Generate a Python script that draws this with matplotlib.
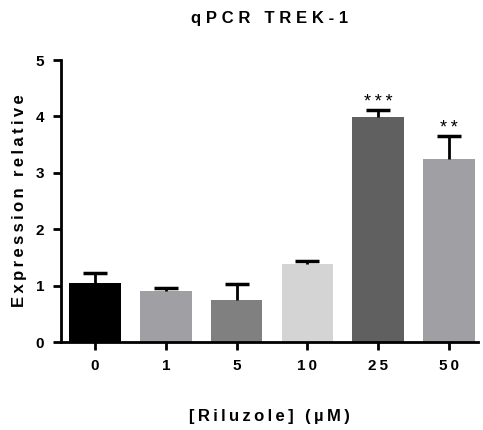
import numpy as np
import matplotlib
matplotlib.use('Agg')
import matplotlib.pyplot as plt

plt.rcParams['font.family'] = ['Liberation Sans', 'DejaVu Sans']
plt.rcParams['font.weight'] = 'bold'

doses = ['0', '1', '5', '10', '25', '50']
expression = [1.05, 0.90, 0.75, 1.39, 3.99, 3.25]
sem = [0.17, 0.05, 0.28, 0.04, 0.13, 0.41]
stars = ['', '', '', '', '***', '**']
colors = ['#000000', '#a0a0a4', '#808080', '#d4d4d4', '#606060', '#a0a0a4']

TS = '\u2009'  # thin space for letter spacing


def spaced(s, gap=TS):
    return gap.join(s)


fig = plt.figure(figsize=(4.83, 4.30), dpi=100)
ax = fig.add_axes([61/483, 88/430, 417/483, 282/430])

x = np.arange(len(doses))
ax.bar(x, expression, width=0.73, color=colors, zorder=2)

# upper-only error bars with caps
top = np.array(expression) + np.array(sem)
ax.vlines(x, expression, top, color='black', linewidth=2, zorder=3)
ax.hlines(top, x - 0.17, x + 0.17, color='black', linewidth=2.5, zorder=3)

for xi, t, s in zip(x, top, stars):
    if s:
        ax.text(xi, t - 0.02, spaced(s), ha='center', va='bottom',
                fontsize=13, fontweight='normal')

ax.set_xlim(-0.48, 5.41)
ax.set_ylim(0, 5)
ax.set_xticks(x)
ax.set_xticklabels([spaced(d) for d in doses], fontsize=11, fontweight='bold')
ax.set_yticks(range(6))
ax.set_yticklabels([str(i) for i in range(6)], fontsize=11, fontweight='bold')

for side in ['top', 'right']:
    ax.spines[side].set_visible(False)
for side in ['left', 'bottom']:
    ax.spines[side].set_linewidth(2)
ax.tick_params(axis='both', width=2, length=6, direction='out', pad=6)

ax.set_ylabel(spaced('Expression relative'), fontsize=12, fontweight='bold', labelpad=6)
ax.set_xlabel(spaced('[Riluzole] (µM)'), fontsize=12, fontweight='bold', labelpad=26)
fig.text(270/483, 1 - 18/430, spaced('qPCR TREK-1', TS + '\u200a'),
         ha='center', va='center', fontsize=12, fontweight='bold')

fig.savefig('out.png', dpi=100)
